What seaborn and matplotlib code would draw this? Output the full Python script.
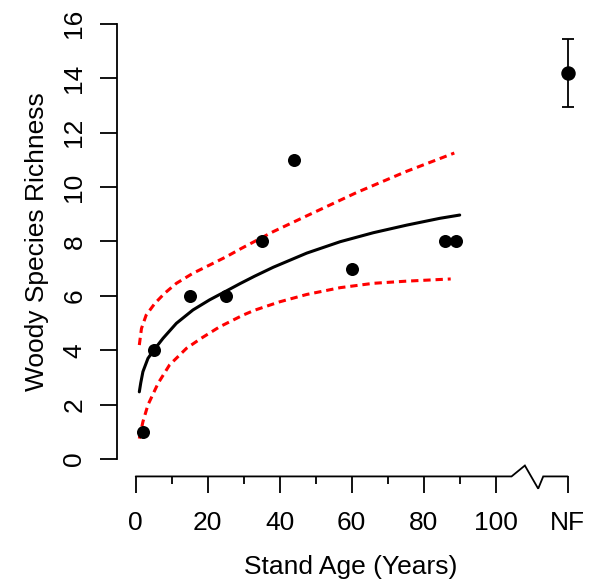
import numpy as np
import pandas as pd
import seaborn as sns
import matplotlib.pyplot as plt

# site data: stand age (years) vs woody species richness
stand_age = [2, 5, 15, 25, 35, 44, 60, 86, 89]
richness = [1, 4, 6, 6, 8, 11, 7, 8, 8]

# non-forest reference, plotted at the "NF" slot on the x axis
nf_pos = 120
nf_mean = 14.2
nf_err = 1.24

# fitted curve
fit_age = [1, 1.4, 2, 3.4, 5, 7.6, 11.3, 15.9, 20.5, 25.2, 29, 33, 38.2, 47.5, 56.8, 66, 75.3, 84.5, 90]
fit_rich = [2.47, 2.8, 3.21, 3.7, 4.0, 4.44, 4.99, 5.48, 5.85, 6.18, 6.45, 6.72, 7.05, 7.57, 7.99, 8.32, 8.6, 8.85, 8.97]

# confidence bands
upper_age = [1, 1.6, 2.9, 5.3, 8, 11.3, 15.9, 20.5, 25.2, 29.3, 38.2, 47.5, 61.4, 75.3, 88.5]
upper_rich = [4.19, 4.8, 5.29, 5.72, 6.09, 6.46, 6.83, 7.13, 7.44, 7.74, 8.36, 8.94, 9.8, 10.58, 11.25]
lower_age = [1, 2, 3.4, 6.2, 9.4, 14.1, 18.2, 23.3, 29.8, 33, 40, 47.5, 56.8, 66, 75.3, 87.5]
lower_rich = [0.75, 1.37, 1.99, 2.78, 3.46, 4.07, 4.44, 4.86, 5.29, 5.47, 5.78, 6.05, 6.3, 6.46, 6.54, 6.62]

x_ticks = [0, 20, 40, 60, 80, 100, 120]
x_labels = ['0', '20', '40', '60', '80', '100', 'NF']
x_minor = [10, 30, 50, 70, 90]
y_ticks = list(range(0, 17, 2))

sns.set_theme(style='ticks')
plt.rcParams['font.family'] = ['Liberation Sans', 'DejaVu Sans']
plt.rcParams['text.color'] = 'black'
plt.rcParams['axes.labelcolor'] = 'black'
plt.rcParams['xtick.color'] = 'black'
plt.rcParams['ytick.color'] = 'black'

fig = plt.figure(figsize=(5.9, 5.84), dpi=100)
ax = fig.add_axes([0.1983, 0.1842, 0.7932, 0.8048])

red_dash = (0, (2.4, 1.6))
sns.lineplot(x=upper_age, y=upper_rich, color='#ff0000', lw=2.2, linestyle=red_dash,
             estimator=None, sort=False, ax=ax)
sns.lineplot(x=lower_age, y=lower_rich, color='#ff0000', lw=2.2, linestyle=red_dash,
             estimator=None, sort=False, ax=ax)
sns.lineplot(x=fit_age, y=fit_rich, color='black', lw=2.2, estimator=None, sort=False, ax=ax)
sns.scatterplot(x=stand_age, y=richness, color='black', s=88, linewidth=0, zorder=3, ax=ax)
ax.errorbar(nf_pos, nf_mean, yerr=nf_err, fmt='o', color='black', ms=9.4,
            capsize=4.5, elinewidth=1.3, capthick=1.3, zorder=3)

ax.set_xlim(-5.2, 124.8)
ax.set_ylim(-0.64, 16.64)

# R-style detached axes
for side in ['top', 'right', 'bottom']:
    ax.spines[side].set_visible(False)
ax.spines['left'].set_bounds(0, 16)
ax.spines['left'].set_linewidth(1.3)
ax.spines['left'].set_color('black')

# x axis line with a break before NF
ax.plot([0, 104.4, 108.1, 111.8, 113.2, 120],
        [-0.64, -0.64, -0.24, -1.09, -0.64, -0.64],
        color='black', lw=1.3, clip_on=False, solid_joinstyle='miter')

ax.set_xticks(x_ticks, labels=x_labels)
ax.set_xticks(x_minor, minor=True)
ax.set_yticks(y_ticks)
ax.tick_params(axis='both', which='major', length=12, width=1.3, labelsize=19)
ax.tick_params(axis='x', which='major', pad=13)
ax.tick_params(axis='x', which='minor', length=6, width=1.3)
ax.tick_params(axis='y', which='major', labelrotation=90, pad=10)
plt.setp(ax.get_yticklabels(), va='center')

ax.set_xlabel('Stand Age (Years)', fontsize=19, labelpad=14)
ax.set_ylabel('Woody Species Richness', fontsize=19, labelpad=10)

fig.savefig('out.png', dpi=100, facecolor='white')
